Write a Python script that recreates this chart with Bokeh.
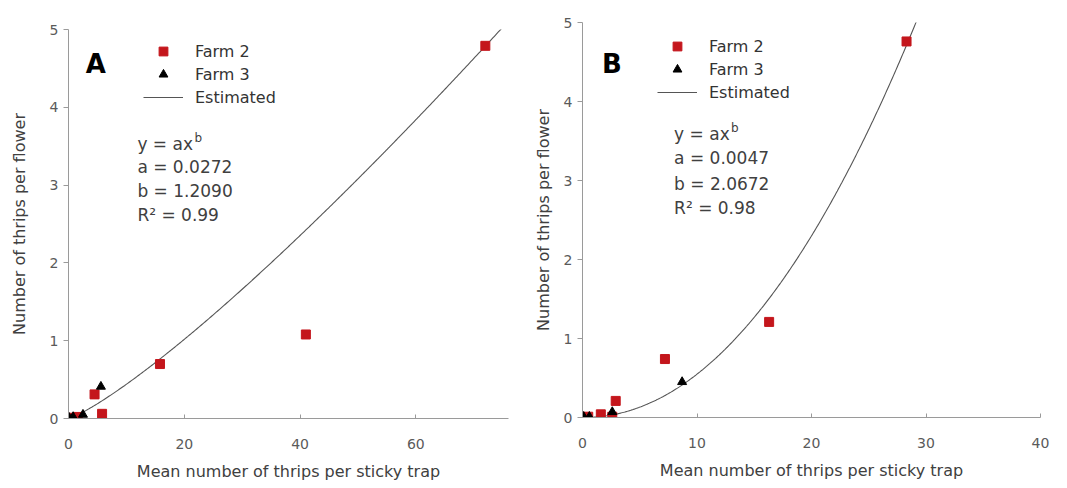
import numpy as np
from bokeh.plotting import figure
from bokeh.models import Range1d, Legend, LegendItem, Label, FixedTicker
from bokeh.layouts import row, column
from bokeh.embed import file_html
from bokeh.resources import INLINE

# ---------------- data ----------------
# Panel A
a_farm2_x = [0.3, 1.6, 4.5, 5.8, 15.8, 41.0, 72.0]
a_farm2_y = [0.01, 0.02, 0.31, 0.06, 0.70, 1.08, 4.79]
a_farm3_x = [0.1, 0.8, 2.5, 5.6]
a_farm3_y = [0.01, 0.02, 0.05, 0.41]
a_coef_a = 0.0272
a_coef_b = 1.2090
a_r2 = "0.99"

# Panel B
b_farm2_x = [0.1, 0.5, 1.6, 2.6, 2.9, 7.2, 16.3, 28.3]
b_farm2_y = [0.0, 0.01, 0.04, 0.01, 0.21, 0.74, 1.21, 4.76]
b_farm3_x = [0.1, 0.6, 2.6, 8.7]
b_farm3_y = [0.01, 0.01, 0.07, 0.45]
b_coef_a = 0.0047
b_coef_b = 2.0672
b_r2 = "0.98"

a_xticks = [0, 20, 40, 60]
b_xticks = [0, 10, 20, 30, 40]
y_ticks = [0, 1, 2, 3, 4, 5]

x_label = "Mean number of thrips per sticky trap"
y_label = "Number of thrips per flower"

RED = "#c4161c"
FONT = "DejaVu Sans"


def style_axes(p, xticks, ylab_standoff):
    p.grid.visible = False
    p.outline_line_color = None
    p.xaxis.ticker = FixedTicker(ticks=xticks)
    p.yaxis.ticker = FixedTicker(ticks=y_ticks)
    for ax in (p.xaxis[0], p.yaxis[0]):
        ax.axis_line_color = "#9a9a9a"
        ax.major_tick_line_color = "#9a9a9a"
        ax.minor_tick_line_color = None
        ax.major_label_text_font = FONT
        ax.major_label_text_font_size = "14px"
        ax.major_label_text_color = "#5a5a5a"
        ax.axis_label_text_font = FONT
        ax.axis_label_text_font_size = "16px"
        ax.axis_label_text_font_style = "normal"
        ax.axis_label_text_color = "#404040"
    p.xaxis.major_tick_in = 4
    p.xaxis.major_tick_out = 0
    p.xaxis.major_label_standoff = 20
    p.xaxis.axis_label_standoff = 10
    p.yaxis.major_tick_in = 0
    p.yaxis.major_tick_out = 5
    p.yaxis.major_label_standoff = 5
    p.yaxis.axis_label_standoff = ylab_standoff
    p.xaxis.axis_label = x_label
    p.yaxis.axis_label = y_label


def panel(width, x_end, xticks, borders, fx2, fy2, fx3, fy3, ca, cb, r2,
          letter, letter_pos, eq_x, eq_ys, legend_loc, ylab_standoff):
    left, right, top, bottom = borders
    p = figure(width=width, height=488, x_range=Range1d(0, x_end),
               y_range=Range1d(0, 5), output_backend="svg",
               toolbar_location=None, min_border_left=left,
               min_border_right=right, min_border_top=top,
               min_border_bottom=bottom)
    style_axes(p, xticks, ylab_standoff)

    # estimated curve y = a x^b from the printed coefficients
    cx = np.linspace(0, x_end, 400)
    cy = ca * cx ** cb
    r_line = p.line(cx, cy, line_color="#555555", line_width=1.1)
    r_sq = p.scatter(fx2, fy2, marker="square", size=9, fill_color=RED,
                     line_color=RED)
    r_tr = p.scatter(fx3, fy3, marker="triangle", size=9, fill_color="black",
                     line_color="black")

    legend = Legend(items=[LegendItem(label="Farm 2", renderers=[r_sq]),
                           LegendItem(label="Farm 3", renderers=[r_tr]),
                           LegendItem(label="Estimated", renderers=[r_line])],
                    location=legend_loc, orientation="vertical",
                    border_line_alpha=0, background_fill_alpha=0,
                    padding=0, margin=0, spacing=1, glyph_width=40,
                    glyph_height=22, label_height=22, label_standoff=12,
                    label_text_font=FONT, label_text_font_size="16px",
                    label_text_color="#333333")
    p.add_layout(legend)

    p.add_layout(Label(x=letter_pos[0], y=letter_pos[1], text=letter,
                       text_font=FONT, text_font_size="26px",
                       text_font_style="bold", text_color="black",
                       text_baseline="middle"))
    lines = ["y = ax", f"a = {ca:.4f}", f"b = {cb:.4f}",
             f"R\u00b2 = {r2}"]
    for t, yy in zip(lines, eq_ys):
        p.add_layout(Label(x=eq_x, y=yy, text=t, text_font=FONT,
                           text_font_size="17px", text_color="#404040",
                           text_baseline="middle"))
    # superscript exponent of y = ax^b
    p.add_layout(Label(x=eq_x, y=eq_ys[0], text="b", text_font=FONT,
                       text_font_size="12px", text_color="#404040",
                       text_baseline="middle", x_offset=57, y_offset=6))
    return p


pA = panel(530, 76, a_xticks, (68, 22, 29, 70),
           a_farm2_x, a_farm2_y, a_farm3_x, a_farm3_y,
           a_coef_a, a_coef_b, a_r2, "A", (3.0, 4.56),
           11.9, [3.53, 3.23, 2.93, 2.62], (75, 310), 18)
pB = panel(537, 40, b_xticks, (52, 27, 22, 71),
           b_farm2_x, b_farm2_y, b_farm3_x, b_farm3_y,
           b_coef_a, b_coef_b, b_r2, "B", (1.7, 4.48),
           8.0, [3.59, 3.29, 2.96, 2.65], (75, 314), 8)

layout = row(pA, column(pB))
open("out.html", "w").write(file_html(layout, INLINE))
